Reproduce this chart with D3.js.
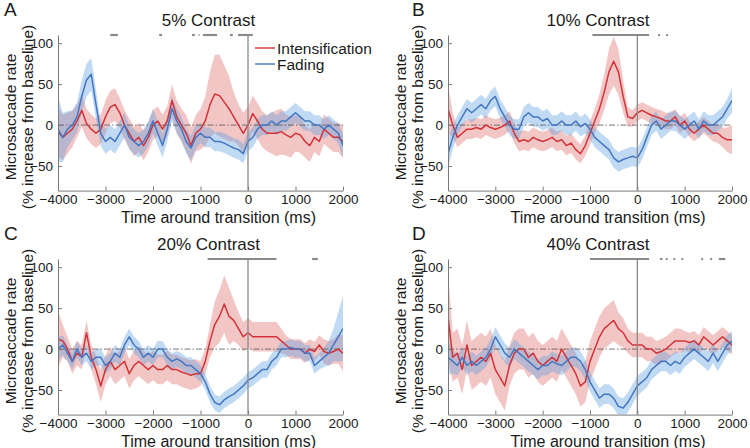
<!DOCTYPE html>
<html>
<head>
<meta charset="utf-8">
<script src="https://cdn.jsdelivr.net/npm/d3@7"></script>
<style>
  body { margin: 0; background: #fff; }
  text { font-family: "Liberation Sans", Arial, Helvetica, sans-serif; fill: #1a1a1a; }
</style>
</head>
<body>
<script>
const width = 750;
const height = 448;

// sampling grid (ms) shared by all series
const times = d3.range(-4000, 2001, 100);
const xTicks = [-4000, -3000, -2000, -1000, 0, 1000, 2000];
const yTicks = [-50, 0, 50, 100];
const letters = ["A", "B", "C", "D"];
const titles = ["5% Contrast", "10% Contrast", "20% Contrast", "40% Contrast"];
const seriesNames = ["Intensification", "Fading"];

// 5% contrast
const redA = [-8,-15,-10,-5,5,18,2,-5,-10,-5, 10,22,25,15,0,-10,-20,-15,-25,-15,
  0,5,-5,5,30,10,0,-10,-25,-10, -5,5,25,38,36,28,20,10,0,-10,
  0,14,5,-5,-10,-10,-10,-8,-12,-15, -10,-12,-20,-25,-15,-20,-5,-10,-15,-15, -20];
const redAErr = [30,28,25,22,20,20,18,18,18,18, 20,20,20,18,18,18,18,18,18,18,
  18,18,18,18,20,20,20,22,22,22, 25,30,40,48,50,45,40,30,25,25,
  22,22,22,22,22,25,28,28,25,25, 22,22,20,20,18,18,18,18,18,18, 20];
const blueA = [-5,-15,-5,0,10,35,55,62,25,-10, -20,-15,-20,-10,0,-15,-20,-25,-20,-10,
  5,-10,-25,-5,20,5,-5,-20,-28,-15, -10,-15,-15,-20,-20,-22,-25,-28,-30,-35,
  -20,-15,-5,0,0,5,0,5,5,10, 15,10,5,5,0,0,-5,0,-5,-10, -25];
const blueAErr = [40,30,22,18,18,20,20,20,18,15, 15,15,15,15,15,15,15,15,15,15,
  15,15,15,15,15,15,15,15,15,15, 12,12,12,12,12,12,12,12,12,12,
  12,12,12,12,12,12,12,12,12,12, 12,12,12,12,12,12,12,12,12,12, 15];
const sigA = [[-2900, -2740], [-1870, -1810], [-1180, -1120], [-1040, -1020],
  [-950, -650], [-380, -320], [-210, 100]];

// 10% contrast
const redB = [20,0,-15,-10,-5,-5,-3,-5,0,-3, -5,-3,0,5,-10,-20,-18,-20,-15,-18,
  -20,-18,-15,-20,-18,-25,-22,-30,-35,-25, -10,5,20,40,65,78,65,35,10,8,
  15,18,15,12,10,8,5,5,10,0, 5,-5,-10,-5,0,-5,-10,-10,-15,-18, -18];
const redBErr = [30,15,12,12,12,12,12,12,12,12, 12,12,12,12,12,12,12,12,12,12,
  12,12,12,12,12,12,12,12,12,12, 15,15,18,22,28,30,28,20,12,10,
  10,10,10,10,10,10,10,10,10,10, 10,10,10,10,10,10,10,12,12,15, 18];
const blueB = [-35,-15,0,10,20,15,20,25,20,30, 35,20,10,0,-5,-5,10,15,10,10,
  5,8,0,0,5,0,0,5,-2,2, -5,-15,-20,-25,-30,-40,-45,-42,-40,-38,
  -40,-30,-15,0,5,-5,0,5,5,0, -5,0,5,-5,5,0,0,5,10,20, 30];
const blueBErr = [18,15,12,12,12,12,12,12,12,12, 12,12,12,12,12,12,12,12,12,12,
  12,12,12,12,12,12,12,12,12,12, 12,12,12,12,12,12,12,12,12,12,
  12,12,12,12,12,12,12,12,12,12, 12,12,12,12,12,12,12,12,12,12, 15];
const sigB = [[-950, 250], [440, 480], [610, 650]];

// 20% contrast
const redC = [12,10,0,-15,-5,-10,20,-10,-25,-45, -25,-15,-25,-20,-15,-30,-20,-15,-20,-25,
  -20,-25,-25,-20,-25,-25,-28,-30,-32,-30, -30,-15,10,30,40,55,40,35,25,15,
  20,15,15,15,15,15,15,10,5,0, 0,0,-5,0,-3,5,-3,-5,-3,0, -5];
const redCErr = [35,20,15,15,15,15,15,15,18,20, 18,18,18,18,18,18,18,18,18,18,
  18,18,18,18,18,18,18,18,18,18, 15,15,20,28,32,35,35,25,20,18,
  18,18,18,18,18,18,18,15,12,12, 12,12,12,12,12,12,15,15,15,18, 22];
const blueC = [0,5,-5,-15,0,-10,-5,-15,-10,-10, -20,-15,-5,-10,5,15,5,0,-10,-5,
  -10,0,0,-10,-15,-12,-15,-20,-20,-25, -30,-40,-55,-65,-68,-62,-58,-55,-50,-45,
  -38,-35,-30,-25,-25,-15,-10,0,0,2, 0,0,-5,-5,-20,-15,-10,-5,5,15, 25];
const blueCErr = [15,12,10,10,10,10,10,10,10,10, 10,10,10,10,10,10,10,10,10,10,
  10,10,10,10,10,10,10,10,10,10, 10,10,10,10,10,10,10,10,10,10,
  10,10,10,10,10,10,10,10,10,10, 10,10,10,10,10,10,12,15,20,30, 40];
const sigC = [[-850, 600], [1350, 1470]];

// 40% contrast
const redD = [40,-10,-5,-25,5,-20,-15,-10,-15,-5, -25,-35,-45,-20,-5,0,0,-10,-5,-15,
  -20,-15,-10,-15,0,-10,-20,-30,-45,-40, -15,0,15,25,30,35,25,20,10,5,
  5,5,0,0,-5,-3,0,5,10,10, 10,8,10,5,15,10,5,10,15,10, 5];
const redDErr = [55,30,30,30,30,30,30,30,30,30, 30,30,30,25,25,25,25,25,25,25,
  25,25,25,25,25,25,25,25,25,25, 25,25,25,25,25,25,20,18,15,15,
  15,15,15,15,15,15,15,15,15,15, 12,12,12,12,12,12,12,12,12,12, 12];
const blueD = [-10,-15,-20,-10,-20,-15,-20,-15,-10,0, 15,5,-5,-10,0,-5,-10,-15,-20,-25,
  -20,-20,-15,-18,-20,-15,-10,-10,-15,-25, -40,-50,-60,-55,-55,-60,-70,-72,-65,-55,
  -45,-40,-35,-25,-20,-15,-15,-20,-15,-18, -10,-5,0,-5,-10,-15,-5,-15,-5,5, 10];
const blueDErr = [20,15,12,12,12,12,12,12,12,12, 12,12,12,12,12,12,12,12,12,12,
  12,12,12,12,12,12,12,12,12,12, 12,12,12,12,12,12,12,12,12,12,
  12,12,12,12,12,12,12,12,12,12, 12,12,12,12,12,12,12,12,12,12, 12];
const sigD = [[-1000, 250], [480, 530], [600, 640], [760, 800], [930, 970],
  [1350, 1390], [1540, 1580], [1720, 1860]];

const redLine = "#d23338", redFill = "#de5c5c";
const blueLine = "#4477c2", blueFill = "#5b9ee0";

const panels = [
  { red: redA, redErr: redAErr, blue: blueA, blueErr: blueAErr, sig: sigA, ox: 0, oy: 0 },
  { red: redB, redErr: redBErr, blue: blueB, blueErr: blueBErr, sig: sigB, ox: 390, oy: 0 },
  { red: redC, redErr: redCErr, blue: blueC, blueErr: blueCErr, sig: sigC, ox: 0, oy: 224 },
  { red: redD, redErr: redDErr, blue: blueD, blueErr: blueDErr, sig: sigD, ox: 390, oy: 224 }
];

const svg = d3.select("body").append("svg")
  .attr("width", width)
  .attr("height", height);

panels.forEach((p, i) => {
  const x = d3.scaleLinear().domain([-4000, 2000]).range([58 + p.ox, 343 + p.ox - (p.ox ? 1 : 0)]);
  const y = d3.scaleLinear().domain([-80, 110]).range([190.6 + p.oy, 35 + p.oy]);
  const g = svg.append("g");

  const clipId = "clip" + i;
  svg.append("clipPath").attr("id", clipId)
    .append("rect")
    .attr("x", x(-4000)).attr("y", y(110))
    .attr("width", x(2000) - x(-4000)).attr("height", y(-80) - y(110));

  const plot = g.append("g").attr("clip-path", `url(#${clipId})`);

  const band = (vals, err) => d3.area()
    .x((d, j) => x(times[j]))
    .y0((d, j) => y(vals[j] - err[j]))
    .y1((d, j) => y(vals[j] + err[j]))(vals);
  const line = d3.line().x((d, j) => x(times[j])).y(d => y(d));

  plot.append("path").attr("d", band(p.red, p.redErr))
    .attr("fill", redFill).attr("fill-opacity", 0.35);
  plot.append("path").attr("d", band(p.blue, p.blueErr))
    .attr("fill", blueFill).attr("fill-opacity", 0.38);

  // zero reference
  plot.append("line")
    .attr("x1", x(-4000)).attr("x2", x(2000))
    .attr("y1", y(0)).attr("y2", y(0))
    .attr("stroke", "#555").attr("stroke-width", 0.8)
    .attr("stroke-dasharray", "6,2,1.5,2");

  plot.append("path").attr("d", line(p.red))
    .attr("fill", "none").attr("stroke", redLine).attr("stroke-width", 1.5)
    .attr("stroke-linejoin", "round");
  plot.append("path").attr("d", line(p.blue))
    .attr("fill", "none").attr("stroke", blueLine).attr("stroke-width", 1.5)
    .attr("stroke-linejoin", "round");

  // transition marker
  g.append("line")
    .attr("x1", x(0)).attr("x2", x(0))
    .attr("y1", y(-80)).attr("y2", y(110))
    .attr("stroke", "#8a8a8a").attr("stroke-width", 1.3);

  // significance marks
  g.selectAll(".sig").data(p.sig).enter().append("line")
    .attr("x1", d => x(d[0])).attr("x2", d => x(d[1]))
    .attr("y1", y(110)).attr("y2", y(110))
    .attr("stroke", "#8a8a8a").attr("stroke-width", 2.2);

  // axes
  const fmt = d => d < 0 ? "\u2212" + Math.abs(d) : d;
  const xAxis = g.append("g")
    .attr("transform", `translate(0,${y(-80)})`)
    .call(d3.axisBottom(x).tickValues(xTicks).tickSizeInner(-4).tickSizeOuter(0)
      .tickPadding(4).tickFormat(fmt));
  const yAxis = g.append("g")
    .attr("transform", `translate(${x(-4000)},0)`)
    .call(d3.axisLeft(y).tickValues(yTicks).tickSizeInner(-4).tickSizeOuter(0)
      .tickPadding(5).tickFormat(fmt));
  [xAxis, yAxis].forEach(a => {
    a.select(".domain").attr("stroke", "#7a7a7a");
    a.selectAll(".tick line").attr("stroke", "#7a7a7a");
    a.selectAll(".tick text").attr("font-size", 13.5).attr("fill", "#1a1a1a")
      .attr("font-family", "Liberation Sans, Arial, sans-serif");
  });

  const cx = (x(-4000) + x(2000)) / 2;

  g.append("text")
    .attr("x", cx + 8).attr("y", 26 + p.oy)
    .attr("text-anchor", "middle").attr("font-size", 17)
    .text(titles[i]);

  g.append("text")
    .attr("x", 4 + p.ox + (p.ox ? 18 : 0)).attr("y", 16 + p.oy)
    .attr("font-size", 19)
    .text(letters[i]);

  g.append("text")
    .attr("x", cx + 18).attr("y", 222.5 + p.oy)
    .attr("text-anchor", "middle").attr("font-size", 16)
    .text("Time around transition (ms)");

  const yl = g.append("text")
    .attr("transform", `translate(${x(-4000) - 42},${117 + p.oy}) rotate(-90)`)
    .attr("text-anchor", "middle").attr("font-size", 15.5);
  yl.append("tspan").attr("x", 0).attr("dy", 0).text("Microsaccade rate");
  yl.append("tspan").attr("x", 0).attr("dy", 16.5).text("(% increase from baseline)");

  if (i === 0) {
    const legend = g.append("g");
    [redLine, blueLine].forEach((c, k) => {
      const ly = 48 + k * 16;
      legend.append("line")
        .attr("x1", 255).attr("x2", 275).attr("y1", ly).attr("y2", ly)
        .attr("stroke", c).attr("stroke-width", 1.4);
      legend.append("text")
        .attr("x", 277).attr("y", ly + 5.5)
        .attr("font-size", 15.5)
        .text(seriesNames[k]);
    });
  }
});
</script>
</body>
</html>
